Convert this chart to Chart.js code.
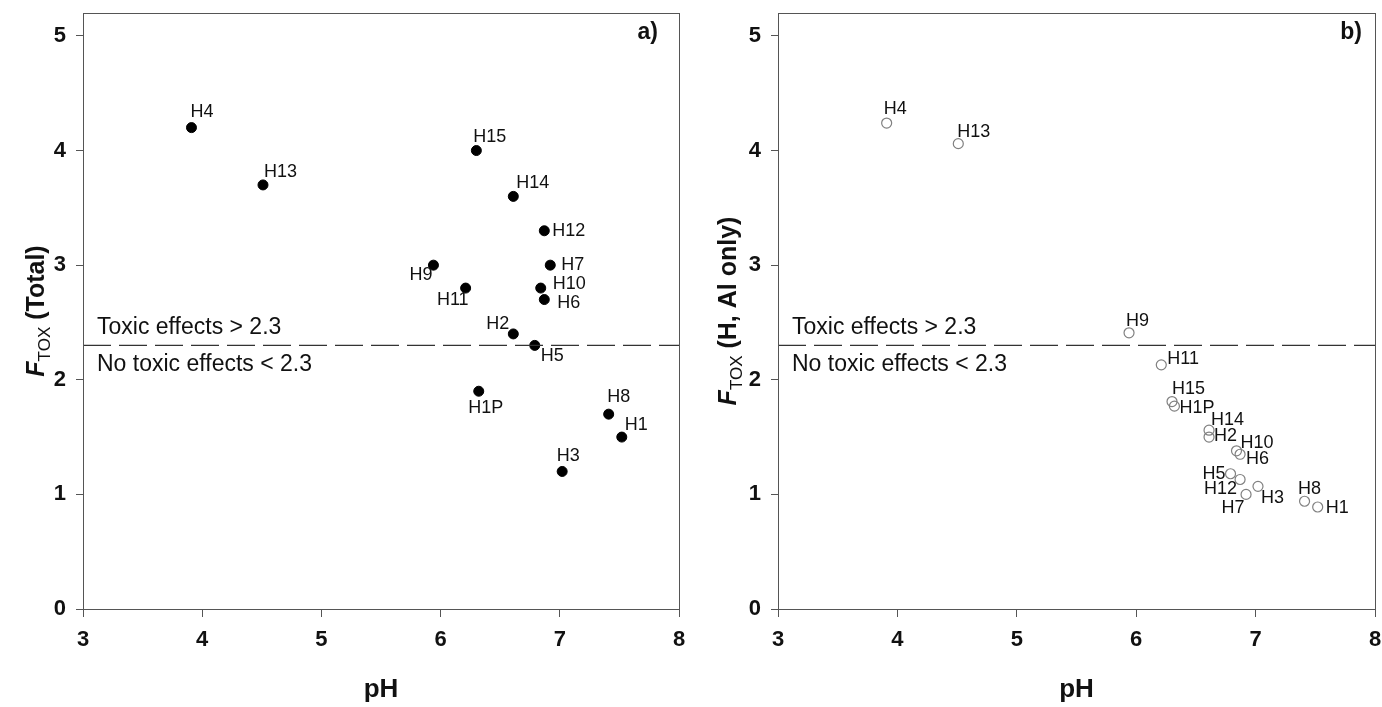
<!DOCTYPE html>
<html>
<head>
<meta charset="utf-8">
<script src="https://cdn.jsdelivr.net/npm/chart.js@4.4.1/dist/chart.umd.min.js"></script>
<style>
    body { margin: 0; background: #fff; }
    .panel { position: absolute; top: 0; height: 707px; }
    #wrapA { left: 0; width: 690px; }
    #wrapB { left: 690px; width: 692px; }
</style>
</head>
<body>
<div class="panel" id="wrapA"><canvas id="chartA" width="690" height="707"></canvas></div>
<div class="panel" id="wrapB"><canvas id="chartB" width="692" height="707"></canvas></div>
<script>
// sites and values
const sites    = ['H1', 'H1P', 'H2', 'H3', 'H4', 'H5', 'H6', 'H7', 'H8', 'H9', 'H10', 'H11', 'H12', 'H13', 'H14', 'H15'];
const phValues = [7.52, 6.32, 6.61, 7.02, 3.91, 6.79, 6.87, 6.92, 7.41, 5.94, 6.84, 6.21, 6.87, 4.51, 6.61, 6.30];
const ftoxTotal = [1.5, 1.9, 2.4, 1.2, 4.2, 2.3, 2.7, 3.0, 1.7, 3.0, 2.8, 2.8, 3.3, 3.7, 3.6, 4.0];
const ftoxHAl   = [0.89, 1.77, 1.50, 1.07, 4.24, 1.18, 1.35, 1.00, 0.94, 2.41, 1.38, 2.13, 1.13, 4.06, 1.56, 1.81];
const xTicks = [3, 4, 5, 6, 7, 8];
const yTicks = [0, 1, 2, 3, 4, 5];
const threshold = 2.3;

// label placement next to each point: [dx, dy, align]
const labelPlaceA = [[3,-12,'left'],[7,17,'center'],[-4,-10,'right'],[6,-15,'center'],[-1,-16,'left'],[6,11,'left'],
    [13,3,'left'],[11,0,'left'],[10,-17,'center'],[-1,10,'right'],[12,-4,'left'],[3,12,'right'],[8,0,'left'],
    [1,-13,'left'],[3,-13,'left'],[-3,-14,'left']];
const labelPlaceB = [[8,1,'left'],[5,2,'left'],[5,-1,'left'],[3,12,'left'],[-3,-14,'left'],[-5,0,'right'],
    [6,5,'left'],[-13,14,'center'],[5,-12,'center'],[-3,-12,'left'],[4,-8,'left'],[6,-6,'left'],[-3,10,'right'],
    [-1,-12,'left'],[2,-10,'left'],[0,-13,'left']];

const FONT = '"Liberation Sans", Arial, sans-serif';

const annotate = {
    id: 'annotate',
    afterDatasetsDraw(chart, args, opts) {
        const ctx = chart.ctx;
        const area = chart.chartArea;
        const ys = chart.scales.y;
        ctx.save();
        // frame
        ctx.strokeStyle = '#555';
        ctx.lineWidth = 1;
        ctx.strokeRect(area.left + 0.5, area.top + 0.5, area.right - area.left, area.bottom - area.top);

        // point labels
        ctx.fillStyle = '#111';
        ctx.font = '18px ' + FONT;
        ctx.textBaseline = 'middle';
        const meta = chart.getDatasetMeta(1);
        meta.data.forEach((pt, i) => {
            const p = opts.places[i];
            ctx.textAlign = p[2];
            ctx.fillText(sites[i], pt.x + p[0], pt.y + p[1]);
        });

        // threshold notes
        const ty = ys.getPixelForValue(threshold);
        ctx.font = '23px ' + FONT;
        ctx.textAlign = 'left';
        ctx.fillText('Toxic effects > 2.3', area.left + 14, ty - 18);
        ctx.fillText('No toxic effects < 2.3', area.left + 14, ty + 19);

        // panel letter
        ctx.font = 'bold 23px ' + FONT;
        ctx.textAlign = 'right';
        ctx.fillText(opts.panel, area.right - opts.panelGap, 33);

        // x title
        ctx.textAlign = 'center';
        ctx.font = 'bold 26px ' + FONT;
        ctx.fillText('pH', (area.left + area.right) / 2, 690);

        // y title with subscript
        const parts = [
            { t: 'F', f: 'italic bold 25px ' + FONT, dy: 0 },
            { t: 'TOX', f: '17px ' + FONT, dy: 6 },
            { t: ' ' + opts.ytitle, f: 'bold 25px ' + FONT, dy: 0 }
        ];
        let total = 0;
        parts.forEach(p => { ctx.font = p.f; p.w = ctx.measureText(p.t).width; total += p.w; });
        ctx.translate(opts.titleX, (area.top + area.bottom) / 2);
        ctx.rotate(-Math.PI / 2);
        ctx.textAlign = 'left';
        ctx.textBaseline = 'alphabetic';
        let cx = -total / 2;
        parts.forEach(p => { ctx.font = p.f; ctx.fillText(p.t, cx, p.dy); cx += p.w; });
        ctx.restore();
    }
};

function makeChart(id, values, cfg) {
    const points = phValues.map((ph, i) => ({ x: ph, y: values[i] }));
    return new Chart(document.getElementById(id), {
        type: 'scatter',
        data: {
            datasets: [
                {
                    type: 'line',
                    data: [{ x: xTicks[0], y: threshold }, { x: xTicks[xTicks.length - 1], y: threshold }],
                    borderColor: '#333',
                    borderWidth: 1.2,
                    borderDash: [28, 8],
                    pointRadius: 0,
                    fill: false
                },
                {
                    data: points,
                    pointRadius: cfg.radius,
                    pointBackgroundColor: cfg.fill,
                    pointBorderColor: cfg.stroke,
                    pointBorderWidth: cfg.strokeWidth
                }
            ]
        },
        options: {
            responsive: false,
            animation: false,
            devicePixelRatio: 1,
            layout: { padding: { top: 13, right: cfg.padRight, left: 0, bottom: 0 } },
            plugins: {
                legend: { display: false },
                tooltip: { enabled: false },
                annotate: { panel: cfg.panel, panelGap: cfg.panelGap, ytitle: cfg.ytitle, places: cfg.places, titleX: cfg.titleX }
            },
            scales: {
                x: {
                    type: 'linear',
                    min: 3, max: 8,
                    afterBuildTicks: s => { s.ticks = xTicks.map(v => ({ value: v })); },
                    afterFit: s => { s.height = 98; s.paddingLeft = 0; s.paddingRight = 0; },
                    grid: { drawOnChartArea: false, drawTicks: true, tickLength: 8, color: '#555' },
                    border: { display: true, color: '#555', width: 1 },
                    ticks: { color: '#111', padding: 10, font: { family: FONT, size: 22, weight: 'bold' } }
                },
                y: {
                    type: 'linear',
                    min: 0, max: 5.2,
                    afterBuildTicks: s => { s.ticks = yTicks.map(v => ({ value: v })); },
                    afterFit: s => { s.width = cfg.axisWidth; s.paddingTop = 0; s.paddingBottom = 0; },
                    grid: { drawOnChartArea: false, drawTicks: true, tickLength: 7, color: '#555' },
                    border: { display: true, color: '#555', width: 1 },
                    ticks: { color: '#111', padding: 10, font: { family: FONT, size: 22, weight: 'bold' } }
                }
            }
        },
        plugins: [annotate]
    });
}

makeChart('chartA', ftoxTotal, {
    radius: 5, fill: '#000', stroke: '#000', strokeWidth: 1,
    padRight: 11, axisWidth: 83, titleX: 44, panelGap: 21,
    panel: 'a)', ytitle: '(Total)', places: labelPlaceA
});
makeChart('chartB', ftoxHAl, {
    radius: 5, fill: 'rgba(255,255,255,0)', stroke: '#808080', strokeWidth: 1.2,
    padRight: 7, axisWidth: 88, titleX: 46, panelGap: 13,
    panel: 'b)', ytitle: '(H, Al only)', places: labelPlaceB
});
</script>
</body>
</html>
